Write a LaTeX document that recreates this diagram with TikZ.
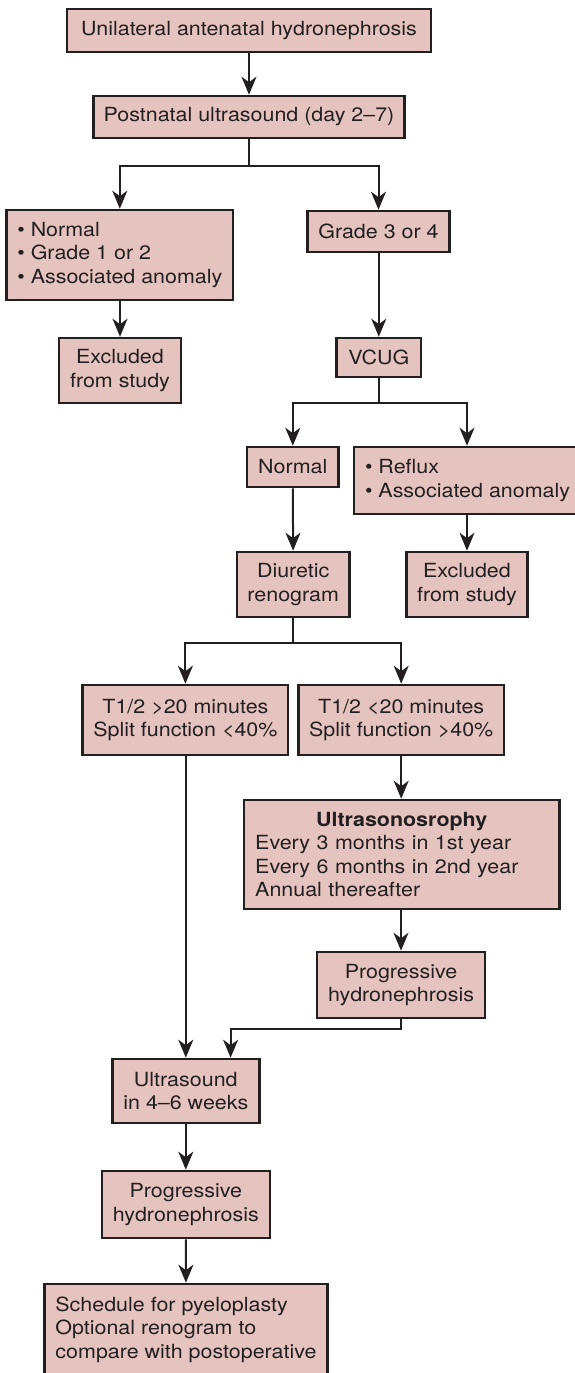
\documentclass[tikz,border=0pt]{standalone}
\usepackage{fontspec}
\setmainfont[FakeStretch=1.1]{TeX Gyre Heros}
\usetikzlibrary{arrows.meta}

\definecolor{boxfill}{RGB}{229,195,190}
\definecolor{inkline}{RGB}{35,31,32}

\tikzset{every picture/.style={line width=2pt}}
\tikzset{
  flowbox/.style={draw=inkline, fill=boxfill, text=inkline, line width=2.6pt, inner sep=0pt,
    align=center, font=\fontsize{19.5}{23.5}\selectfont},
  flowline/.style={draw=inkline, line width=2pt},
  flowarrow/.style={flowline, -{Stealth[length=18pt,width=15pt,inset=5.5pt]}},
}

\begin{document}
\begin{tikzpicture}[x=1pt,y=1pt,yscale=-1,xscale=1]
\useasboundingbox (0,0) rectangle (574,1373);

%Shape: Rectangle [antenatal]
\node[flowbox, minimum width=364pt, minimum height=43pt] (antenatal) at (249,30.5) {Unilateral antenatal hydronephrosis};
%Shape: Rectangle [postnatal]
\node[flowbox, minimum width=311pt, minimum height=42pt] (postnatal) at (249,117) {Postnatal ultrasound (day 2--7)};
%Shape: Rectangle [lowgrade]
\node[flowbox, align=left, minimum width=226.4pt, minimum height=90pt] (lowgrade) at (119.8,255) {• Normal\\• Grade 1 or 2\\• Associated anomaly};
%Shape: Rectangle [highgrade]
\node[flowbox, minimum width=142pt, minimum height=41pt] (highgrade) at (378.5,231.5) {Grade 3 or 4};
%Shape: Rectangle [exclA]
\node[flowbox, minimum width=122.3pt, minimum height=65pt] (exclA) at (120,370.5) {Excluded\\from study};
%Shape: Rectangle [vcug]
\node[flowbox, minimum width=84.2pt, minimum height=39pt] (vcug) at (378.8,357.5) {VCUG};
%Shape: Rectangle [vcugnormal]
\node[flowbox, minimum width=91.5pt, minimum height=40pt] (vcugnormal) at (292.8,467) {Normal};
%Shape: Rectangle [reflux]
\node[flowbox, align=left, minimum width=227pt, minimum height=67pt] (reflux) at (467.5,480.5) {• Reflux\\• Associated anomaly};
%Shape: Rectangle [renogram]
\node[flowbox, minimum width=112.8pt, minimum height=65pt] (renogram) at (293.2,584.5) {Diuretic\\renogram};
%Shape: Rectangle [exclB]
\node[flowbox, minimum width=121.5pt, minimum height=65pt] (exclB) at (467,584.5) {Excluded\\from study};
%Shape: Rectangle [slow]
\node[flowbox, minimum width=205.4pt, minimum height=70pt] (slow) at (185.4,720) {T1/2 >20 minutes\\Split function <40\%};
%Shape: Rectangle [fast]
\node[flowbox, minimum width=205.7pt, minimum height=70pt] (fast) at (401.2,720) {T1/2 <20 minutes\\Split function >40\%};
%Shape: Rectangle [followup]
\node[flowbox, align=left, text width=293pt, minimum width=315.3pt, minimum height=109pt] (followup) at (401.7,854.5)
  {\makebox[293pt]{\bfseries Ultrasonosrophy}\\Every 3 months in 1st year\\Every 6 months in 2nd year\\Annual thereafter};
%Shape: Rectangle [progA]
\node[flowbox, minimum width=168pt, minimum height=66pt] (progA) at (401,985) {Progressive\\hydronephrosis};
%Shape: Rectangle [usweeks]
\node[flowbox, minimum width=146.8pt, minimum height=64pt] (usweeks) at (185.8,1091) {Ultrasound\\in 4--6 weeks};
%Shape: Rectangle [progB]
\node[flowbox, minimum width=168pt, minimum height=67pt] (progB) at (185.8,1204.5) {Progressive\\hydronephrosis};
%Shape: Rectangle [pyeloplasty]
\node[flowbox, align=left, minimum width=282.5pt, minimum height=91pt] (pyeloplasty) at (186,1329.5)
  {Schedule for pyeloplasty\\Optional renogram to\\compare with postoperative};

%Straight Lines
\draw[flowarrow] (antenatal) -- (postnatal);

% branch after postnatal ultrasound
\coordinate (splitA) at (249,166);
\draw[flowline] (postnatal) -- (splitA);
\draw[flowarrow] (splitA) -| (lowgrade.north);
\draw[flowarrow] (splitA) -| (highgrade.north);
\draw[flowarrow] (lowgrade.south -| exclA) -- (exclA.north);
\draw[flowarrow] (highgrade.south -| vcug) -- (vcug.north);

% branch after VCUG
\coordinate (splitB) at (378.8,403);
\draw[flowline] (vcug) -- (splitB);
\draw[flowarrow] (splitB) -| (vcugnormal.north);
\draw[flowarrow] (splitB) -| (exclB.north |- reflux.north);
\draw[flowarrow] (exclB.north |- reflux.south) -- (exclB.north);
\draw[flowarrow] (vcugnormal) -- (renogram);

% branch after renogram
\coordinate (splitC) at (293.2,643);
\draw[flowline] (renogram) -- (splitC);
\draw[flowarrow] (splitC) -| (slow.north);
\draw[flowarrow] (splitC) -| (fast.north);
\draw[flowarrow] (fast) -- (followup.north -| fast);
\draw[flowarrow] (followup.south -| progA) -- (progA.north);

% both sides meet at the ultrasound box
\draw[flowarrow] (slow.south -| usweeks) -- (usweeks.north);
\draw[flowarrow] (progA.south) -- ++(0,10) -| ([xshift=44.8pt]usweeks.north);
\draw[flowarrow] (usweeks) -- (progB);
\draw[flowarrow] (progB) -- (pyeloplasty);

\end{tikzpicture}
\end{document}
